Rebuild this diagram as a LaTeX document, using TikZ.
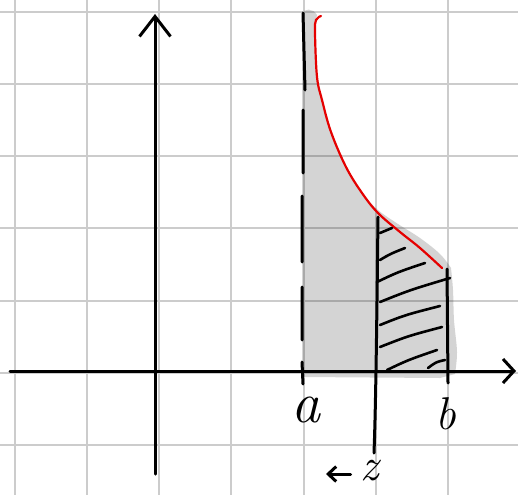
\documentclass[tikz,border=0pt]{standalone}
\usetikzlibrary{arrows.meta}
\begin{document}
\begin{tikzpicture}[x=1pt,y=-1pt,
  gridline/.style={line width=2pt, color=black!20},
  ink/.style={line width=3pt, line cap=round, line join=round},
  hatch/.style={line width=2.6pt, line cap=round},
  curve/.style={line width=2.2pt, color=red!90!black, line cap=round},
  region/.style={fill=black, fill opacity=0.17},
  lbl/.style={inner sep=0pt, font=\fontsize{58}{58}\selectfont\itshape},
  lblb/.style={inner sep=0pt, font=\fontsize{46}{46}\selectfont\itshape},
  lblz/.style={inner sep=0pt, font=\fontsize{46}{46}\selectfont\itshape}]
\useasboundingbox (0,0) rectangle (518,495);
\fill[white] (0,0) rectangle (518,495);
% grid
\foreach \i in {0,...,7} \draw[gridline] ({15+72.15*\i},0) -- ++(0,495);
\foreach \i in {0,...,6} \draw[gridline] (0,{12+72.15*\i}) -- ++(518,0);
% shaded region
\fill[region] (302,377) -- (302,14) .. controls (304,8) and (313,8) .. (317,15)
  -- plot[smooth, tension=0.6] coordinates {(317,15) (315,33) (317,77) (322,100) (331,132) (346,167) (362,193) (378,210) (398,224) (420,238) (440,254) (451,268)}
  -- plot[smooth, tension=0.55] coordinates {(451,268) (453,290) (454,320) (457,352) (455,374)}
  -- (440,378) -- cycle;
% axes
\draw[ink, -{Straight Barb[length=20pt,width=31pt,line width=3pt]}] (155,474) -- (155,14);
\draw[ink, -{Straight Barb[length=11pt,width=24pt,line width=3pt]}] (10,371) -- (516,371);
% dashed line at a
\draw[ink] (303,13) -- (305,90) (303,110) -- (303,173) (302,196) -- (302,262)
  (302,287) -- (302,340) (302,362) -- (303,384);
% red curve
\draw[curve] plot[smooth, tension=0.6] coordinates {(321,16) (316,20) (315,33) (317,77) (322,100) (331,132) (346,167) (362,193) (378,213) (400,232) (420,248) (442,268)};
% line at z
\draw[ink] (378,217) .. controls (377,300) and (376,400) .. (374,453);
% line at b
\draw[ink] (447,269) -- (448,383);
% hatching
\draw[hatch] (380,233) -- (392,228)
  (380,260) .. controls (390,254) .. (405,248)
  (377,282) .. controls (398,272) .. (425,263)
  (380,302) .. controls (410,290) .. (450,278)
  (380,325) .. controls (405,315) .. (440,306)
  (380,347) .. controls (408,336) .. (442,327)
  (387,370) .. controls (408,360) .. (437,350)
  (428,368) .. controls (436,362) .. (445,360);
% labels
\node[lbl] (la) at (306,410) {a};
\node[lblb] (lb) at (446,414) {b};
\node[lblz] (lz) at (370,471) {z};
\coordinate (ztip) at (326,474);
\draw[ink, -{Straight Barb[length=8pt,width=15pt,line width=3pt]}] ([xshift=-10pt]lz.west |- ztip) -- (ztip);
\end{tikzpicture}
\end{document}
